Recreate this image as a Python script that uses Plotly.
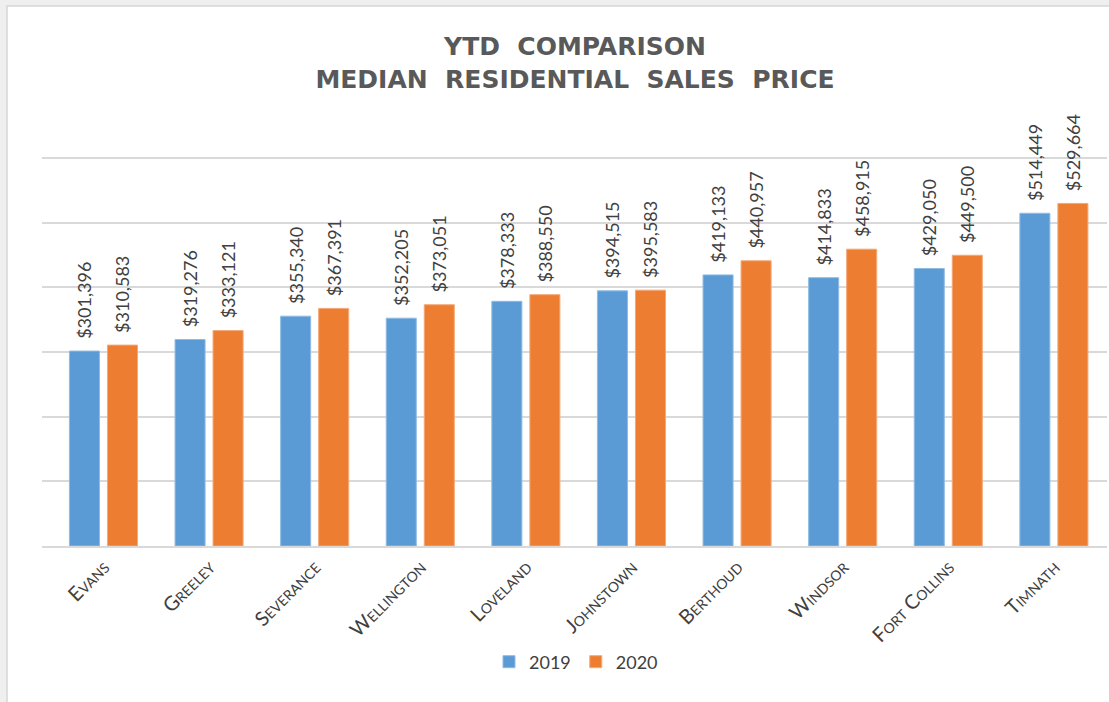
import plotly.graph_objects as go

# data
towns = ["Evans", "Greeley", "Severance", "Wellington", "Loveland",
         "Johnstown", "Berthoud", "Windsor", "Fort Collins", "Timnath"]
price_2019 = [301396, 319276, 355340, 352205, 378333,
              394515, 419133, 414833, 429050, 514449]
price_2020 = [310583, 333121, 367391, 373051, 388550,
              395583, 440957, 458915, 449500, 529664]

BLUE = "#5B9BD5"
ORANGE = "#ED7D31"
TEXT = "#404040"
FONT = "Lato"

# plot area in pixels (y range runs a bit past 600k so the top gridline shows)
L, R, T, B = 42, 1107, 145, 546
W, H = 1109, 702
Y_MAX = 620000


def px_x(p):
    return (p - L) / (R - L)


def px_y(p):
    return (B - p) / (B - T)


def label(v):
    return "\u00a0\u00a0${:,}".format(v)


fig = go.Figure()
for name, vals, color, edge in [("2019", price_2019, BLUE, "#8fbbe3"),
                                ("2020", price_2020, ORANGE, "#f4a877")]:
    fig.add_bar(
        x=towns,
        y=vals,
        name=name,
        marker_color=color,
        marker_line=dict(color=edge, width=1),
        text=[label(v) for v in vals],
        textposition="outside",
        textangle=-90,
        constraintext="none",
        cliponaxis=False,
        textfont=dict(family=FONT, size=18, color=TEXT),
    )

# window frame around the chart
fig.add_shape(
    type="rect", xref="paper", yref="paper", layer="below",
    x0=px_x(7), x1=px_x(W + 20), y0=px_y(6), y1=px_y(H + 20),
    fillcolor="white", line=dict(color="#d6d6d6", width=1.5),
)

fig.update_layout(
    width=W,
    height=H,
    autosize=False,
    margin=dict(l=L, r=W - R, t=T, b=H - B, pad=0),
    paper_bgcolor="#efefef",
    plot_bgcolor="rgba(0,0,0,0)",
    barmode="group",
    bargap=0.28,
    bargroupgap=0.21,
    title=dict(
        text="YTD\u00a0\u00a0COMPARISON<br>MEDIAN\u00a0\u00a0RESIDENTIAL\u00a0\u00a0SALES\u00a0\u00a0PRICE",
        x=px_x(575), xref="paper", xanchor="center",
        y=1 - 55 / H, yref="container", yanchor="middle",
        font=dict(family="DejaVu Sans", size=25, color="#595959", weight="bold"),
    ),
    font=dict(family=FONT, size=15, color=TEXT),
    xaxis=dict(
        range=[-0.582, 9.503],
        tickangle=-45,
        tickfont=dict(family=FONT, size=20, color=TEXT, variant="small-caps"),
        showgrid=False,
        showline=True,
        linecolor="#d9d9d9",
        linewidth=1.5,
        ticks="",
    ),
    yaxis=dict(
        range=[0, Y_MAX],
        tickvals=[100000, 200000, 300000, 400000, 500000, 600000],
        showticklabels=False,
        showgrid=True,
        gridcolor="#d9d9d9",
        gridwidth=1.5,
        zeroline=False,
    ),
    legend=dict(
        orientation="h",
        x=px_x(576), xanchor="center",
        y=px_y(662), yanchor="middle",
        font=dict(family=FONT, size=18, color=TEXT),
        itemwidth=30,
        bgcolor="rgba(0,0,0,0)",
    ),
)

fig.write_html("out.html", config={"displayModeBar": False},
               post_script="document.body.style.margin='0';")
